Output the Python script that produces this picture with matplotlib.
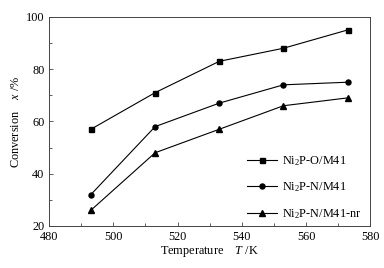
import matplotlib
matplotlib.use("Agg")
import matplotlib.pyplot as plt
from matplotlib.ticker import MultipleLocator

plt.rcParams['font.family'] = ['Liberation Serif', 'DejaVu Serif']
plt.rcParams['mathtext.fontset'] = 'custom'
plt.rcParams['mathtext.rm'] = 'Liberation Serif'
plt.rcParams['mathtext.it'] = 'Liberation Serif:italic'

temps = [493, 513, 533, 553, 573]
s_o = [57, 71, 83, 88, 95]
s_n = [32, 58, 67, 74, 75]
s_nr = [26, 48, 57, 66, 69]
labels = ['Ni$_2$P-O/M41', 'Ni$_2$P-N/M41', 'Ni$_2$P-N/M41-nr']

fs = 8.8
fig = plt.figure(figsize=(3.84, 2.68), dpi=100)
ax = fig.add_axes([0.128, 0.157, 0.836, 0.78])
ax.plot(temps, s_o, '-s', color='black', lw=0.8, ms=3.6, label=labels[0])
ax.plot(temps, s_n, '-o', color='black', lw=0.8, ms=3.6, label=labels[1])
ax.plot(temps, s_nr, '-^', color='black', lw=0.8, ms=3.8, label=labels[2])

ax.set_xlim(480, 580)
ax.set_ylim(20, 100)
ax.xaxis.set_major_locator(MultipleLocator(20))
ax.xaxis.set_minor_locator(MultipleLocator(10))
ax.yaxis.set_major_locator(MultipleLocator(20))
ax.yaxis.set_minor_locator(MultipleLocator(10))
ax.tick_params(which='both', direction='in', labelsize=fs, width=0.6, color='#444444')
ax.tick_params(which='major', length=3)
ax.tick_params(which='minor', length=2)
for s in ax.spines.values():
    s.set_linewidth(0.7)
    s.set_color('#444444')

ax.set_xlabel('Temperature    $\\mathit{T}$ /K', fontsize=fs, labelpad=1)
ax.set_ylabel('Conversion    $\\mathit{x}$ /%', fontsize=fs, labelpad=3)

ax.legend(loc='lower right', bbox_to_anchor=(1.0, -0.018), frameon=False, fontsize=fs,
          handlelength=2.4, labelspacing=1.05, borderaxespad=0.3, handletextpad=0.45)

fig.savefig('out.png', dpi=100)
